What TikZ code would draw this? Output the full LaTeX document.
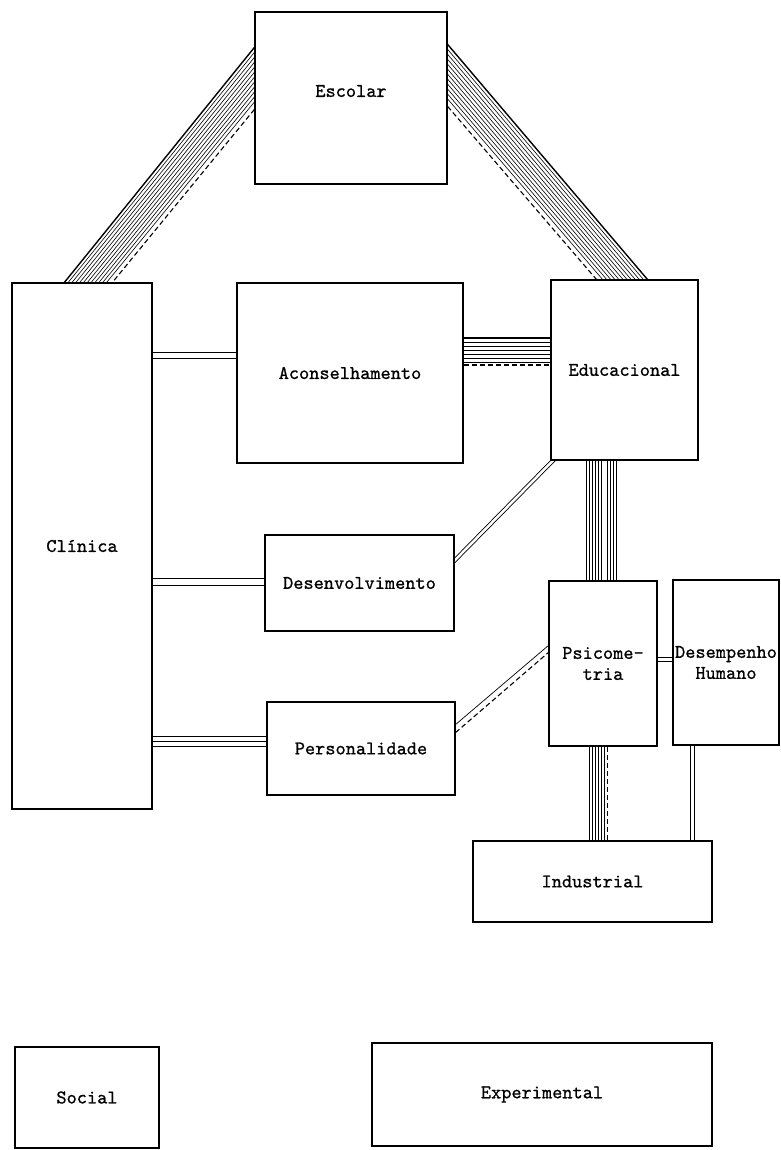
\documentclass[tikz,border=0pt]{standalone}
\usepackage{fontspec}
\newfontfamily\typewriter{lmmono10-regular.otf}[FakeBold=0.8]
\usepackage{tikz}
\usetikzlibrary{calc}

\begin{document}
\begin{tikzpicture}[x=1pt, y=-1pt,
		area/.style={draw, line width=1.2pt, inner sep=0pt, align=center, font=\typewriter\fontsize{19.4}{21}\selectfont},
		wire/.style={line width=0.7pt},
		broken/.style={line width=1.1pt, dash pattern=on 5pt off 3pt}]
	\fill [white] (0, 0) rectangle (780, 1150);
	\useasboundingbox (0, 0) rectangle (780, 1150);
	\node [area, minimum width=192pt, minimum height=172pt] (escolar) at (351, 98) {\raisebox{14pt}{Escolar}};
	\node [area, minimum width=140pt, minimum height=526pt] (clinica) at (82, 546) {Clínica};
	\node [area, minimum width=226pt, minimum height=180pt] (aconselhamento) at (350, 373) {Aconselhamento};
	\node [area, minimum width=147pt, minimum height=180pt] (educacional) at (624.5, 370) {Educacional};
	\node [area, minimum width=189pt, minimum height=96pt] (desenvolvimento) at (359.5, 583) {Desenvolvimento};
	\node [area, minimum width=188pt, minimum height=93pt] (personalidade) at (361, 748.5) {Personalidade};
	\node [area, minimum width=108pt, minimum height=165pt] (psicometria) at (603, 663.5) {Psicome-\\tria};
	\node [area, minimum width=106pt, minimum height=165pt] (desempenho) at (726, 662.5) {Desempenho\\Humano};
	\node [area, minimum width=239pt, minimum height=81pt] (industrial) at (592.5, 881.5) {Industrial};
	\node [area, minimum width=144pt, minimum height=101pt] (social) at (87, 1097.5) {Social};
	\node [area, minimum width=340pt, minimum height=103pt] (experimental) at (542, 1094.5) {Experimental};

	\coordinate (ec-a) at ($(escolar.north west)+(0, 36)$);
	\coordinate (ec-b) at ($(escolar.north west)+(0, 98)$);
	\coordinate (ce-a) at ($(clinica.north west)+(53, 0)$);
	\coordinate (ce-b) at ($(clinica.north west)+(101, 0)$);
	\draw [wire, line width=1.4pt] (ec-a) -- (ce-a);
	\foreach \t in {0.08,0.16,...,0.93}
		\draw [wire, line width=0.6pt] ($(ec-a)!\t!(ec-b)$) -- ($(ce-a)!\t!(ce-b)$);
	\draw [broken] (ec-b) -- (ce-b);

	\coordinate (ee-a) at ($(escolar.north east)+(0, 33)$);
	\coordinate (ee-b) at ($(escolar.north east)+(0, 95)$);
	\coordinate (de-a) at ($(educacional.north west)+(97, 0)$);
	\coordinate (de-b) at ($(educacional.north west)+(46, 0)$);
	\draw [wire, line width=1.4pt] (ee-a) -- (de-a);
	\foreach \t in {0.08,0.16,...,0.93}
		\draw [wire, line width=0.6pt] ($(ee-a)!\t!(ee-b)$) -- ($(de-a)!\t!(de-b)$);
	\draw [broken] (ee-b) -- (de-b);

	\draw [wire, line width=1.4pt] ($(aconselhamento.east)+(0, -35)$) -- ($(educacional.west)+(0, -32)$);
	\foreach \dy in {-31,-27,...,-11}
		\draw [wire] ($(aconselhamento.east)+(0, \dy)$) -- ($(educacional.west)+(0, \dy+3)$);
	\draw [broken] ($(aconselhamento.east)+(0, -8)$) -- ($(educacional.west)+(0, -5)$);

	\foreach \dy in {-21,-15}
		\draw [wire] (clinica.east |- {$(aconselhamento.west)+(0, \dy)$}) -- ($(aconselhamento.west)+(0, \dy)$);
	\foreach \dy in {-5,2}
		\draw [wire] (clinica.east |- {$(desenvolvimento.west)+(0, \dy)$}) -- ($(desenvolvimento.west)+(0, \dy)$);
	\foreach \dy in {-12.5,-7.5,-2.5}
		\draw [wire] (clinica.east |- {$(personalidade.west)+(0, \dy)$}) -- ($(personalidade.west)+(0, \dy)$);

	\draw [wire] (educacional.south west) -- ($(desenvolvimento.east)+(0, -25)$);
	\draw [wire] ($(educacional.south west)+(5, 0)$) -- ($(desenvolvimento.east)+(0, -20)$);
	\draw [wire] ($(personalidade.east)+(0, -24)$) -- ($(psicometria.west)+(0, -18)$);
	\draw [broken] ($(personalidade.east)+(0, -16)$) -- ($(psicometria.west)+(0, -11)$);

	\foreach \dx in {36,39,...,51,57,60,63,66}
		\draw [wire, line width=0.6pt] ($(educacional.south west)+(\dx, 0)$) -- ($(psicometria.north west)+(\dx+2, 0)$);
	\foreach \dx in {41,44,...,56}
		\draw [wire, line width=0.6pt] ($(psicometria.south west)+(\dx, 0)$) -- ($(industrial.north west)+(\dx+76, 0)$);
	\draw [broken] ($(psicometria.south west)+(59, 0)$) -- ($(industrial.north west)+(135, 0)$);

	\foreach \dy in {-6.5,-2.5}
		\draw [wire] ($(psicometria.east)+(0, \dy)$) -- (desempenho.west |- {$(psicometria.east)+(0, \dy)$});
	\foreach \dx in {17.5,21.5}
		\draw [wire] ($(desempenho.south west)+(\dx, 0)$) -- (industrial.north -| {$(desempenho.south west)+(\dx, 0)$});
\end{tikzpicture}
\end{document}
